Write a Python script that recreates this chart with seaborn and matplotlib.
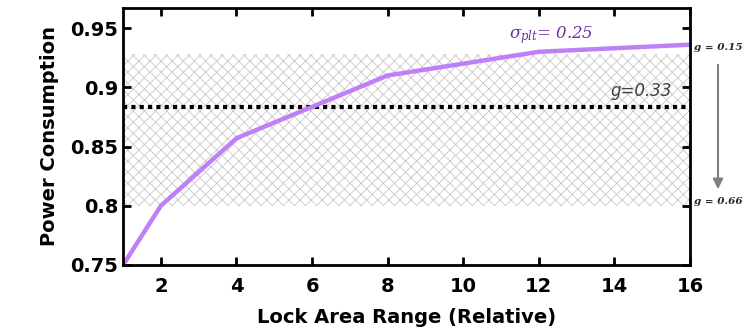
import matplotlib
matplotlib.use('Agg')
import matplotlib.pyplot as plt
import seaborn as sns
import pandas as pd

# данные кривой
lock_range = [1, 2, 4, 8, 12, 16]
power = [0.75, 0.80, 0.857, 0.910, 0.930, 0.936]

x_ticks = [2, 4, 6, 8, 10, 12, 14, 16]
y_ticks = [0.75, 0.80, 0.85, 0.90, 0.95]
y_tick_labels = ['0.75', '0.8', '0.85', '0.9', '0.95']

band_low, band_high = 0.80, 0.928
g_line = 0.883

sns.set_style('ticks')
plt.rcParams['font.family'] = ['DejaVu Sans']
plt.rcParams['mathtext.fontset'] = 'dejavuserif'
plt.rcParams['hatch.linewidth'] = 0.6
plt.rcParams['hatch.color'] = '#c8c8c8'

df = pd.DataFrame({'range': lock_range, 'power': power})

fig = plt.figure(figsize=(7.46, 3.32), dpi=100)
ax = fig.add_axes([0.165, 0.202, 0.760, 0.774])

# заштрихованная полоса
ax.axhspan(band_low, band_high, facecolor='none', edgecolor='#c8c8c8',
           hatch='xxx', linewidth=0, zorder=0)
ax.axhline(g_line, color='black', linestyle=(0, (1, 1)), linewidth=3, zorder=1)

sns.lineplot(data=df, x='range', y='power', color='#bf80f7', linewidth=3.2, ax=ax, zorder=2)

ax.set_xlim(1, 16)
ax.set_ylim(0.75, 0.967)
ax.set_xticks(x_ticks)
ax.set_yticks(y_ticks)
ax.set_yticklabels(y_tick_labels)
ax.tick_params(direction='in', length=6, width=2, labelsize=14, top=True, right=True,
               colors='black')
ax.tick_params(axis='x', pad=9)
for lbl in ax.get_xticklabels() + ax.get_yticklabels():
    lbl.set_fontweight('bold')
for sp in ax.spines.values():
    sp.set_linewidth(2)
    sp.set_color('black')

ax.set_xlabel('Lock Area Range (Relative)', fontsize=14, fontweight='bold',
              color='black', labelpad=8)
ax.set_ylabel('Power Consumption', fontsize=14, fontweight='bold', color='black',
              labelpad=8)

ax.text(11.2, 0.941, r'$\sigma_{plt}$= 0.25', color='#7030a0', fontsize=12,
        style='italic', family='serif')
ax.text(13.9, 0.893, 'g=0.33', color='#404040', fontsize=12, style='italic')

# подписи справа вне осей
fig.text(718 / 746, 1 - 48 / 332, 'g = 0.15', fontsize=7.5, fontweight='bold',
         style='italic', family='serif', ha='center', va='center')
fig.text(718 / 746, 1 - 201 / 332, 'g = 0.66', fontsize=7.5, fontweight='bold',
         style='italic', family='serif', ha='center', va='center')
fig.add_artist(matplotlib.patches.FancyArrowPatch(
    (718 / 746, 1 - 62 / 332), (718 / 746, 1 - 192 / 332),
    transform=fig.transFigure, arrowstyle='-|>,head_length=6,head_width=3',
    color='#808080', linewidth=1.5))

fig.savefig('out.png', dpi=100)
